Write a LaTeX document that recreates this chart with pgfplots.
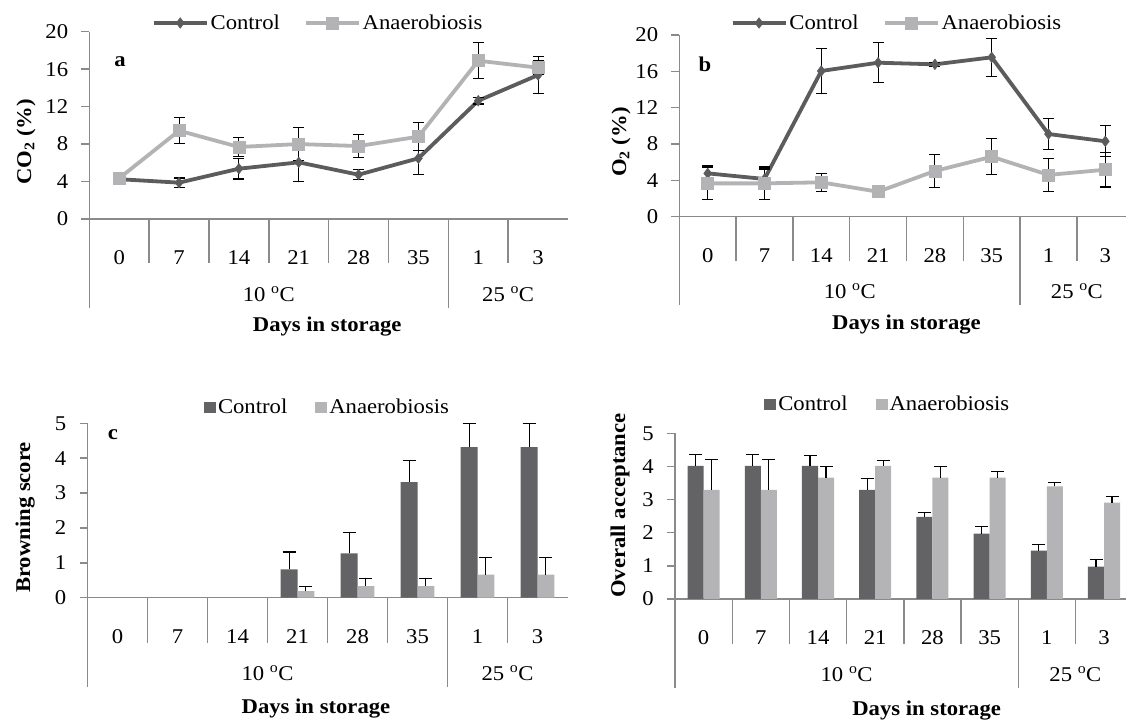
\documentclass[border=0pt]{standalone}
\usepackage{fontspec}
\setmainfont{Liberation Serif}[FakeStretch=1.08]
\usepackage{pgfplots}
\usepackage{pgfplotstable}
\pgfplotsset{compat=1.18}
\definecolor{ctrl}{HTML}{5C5C5E}
\definecolor{anae}{HTML}{B3B3B5}
\definecolor{ctrlbar}{HTML}{636366}
\definecolor{anaebar}{HTML}{B4B4B7}
\definecolor{axgray}{HTML}{8A8A8A}
\newcommand\fs{\fontsize{21}{25}\selectfont}

% panel a: CO2
\pgfplotstableread{
x c ce a ae
0.5 4.25 0.3 4.35 0.3
1.5 3.88 0.5 9.43 1.4
2.5 5.37 1.1 7.69 1.05
3.5 6.05 2.0 8.0 1.8
4.5 4.73 0.55 7.79 1.25
5.5 6.48 1.75 8.79 1.5
6.5 12.63 0.35 16.9 1.9
7.5 15.37 2.0 16.16 0.75
}\tabA
% panel b: O2
\pgfplotstableread{
x c ce a ae
0.5 4.77 0.9 3.67 1.8
1.5 4.15 1.1 3.67 1.8
2.5 16.04 2.5 3.78 1.0
3.5 16.95 2.2 2.75 0.3
4.5 16.77 0.2 5.03 1.8
5.5 17.54 2.1 6.6 2.0
6.5 9.1 1.7 4.6 1.8
7.5 8.3 1.7 5.17 1.9
}\tabB
% panel c: browning score (0 at days 0, 7, 14)
\pgfplotstableread{
x c ce a ae
3.5 0.81 0.5 0.19 0.14
4.5 1.27 0.6 0.33 0.21
5.5 3.31 0.63 0.33 0.21
6.5 4.32 0.68 0.66 0.5
7.5 4.32 0.68 0.66 0.5
}\tabC
% panel d: overall acceptance
\pgfplotstableread{
x c ce a ae
0.5 4.02 0.34 3.29 0.93
1.5 4.02 0.34 3.29 0.93
2.5 4.02 0.30 3.66 0.35
3.5 3.29 0.35 4.02 0.17
4.5 2.48 0.14 3.66 0.34
5.5 1.97 0.21 3.66 0.18
6.5 1.46 0.18 3.40 0.12
7.5 0.98 0.20 2.91 0.19
}\tabD

\pgfplotsset{
  catax/.style={
    scale only axis, anchor=south west, clip=false,
    xmin=0, xmax=8, ymin=0,
    axis x line*=bottom, axis y line*=left,
    axis line style={draw=axgray, line width=1.4pt, -},
    xtick={0.5,1.5,2.5,3.5,4.5,5.5,6.5,7.5},
    xticklabels={0,7,14,21,28,35,1,3},
    tick align=outside,
    major tick length=8pt,
    x tick style={draw=none},
    y tick style={draw=axgray, line width=1.4pt},
    xticklabel style={font=\fs, anchor=base, inner sep=0pt, yshift=-37.5pt},
    yticklabel style={font=\fs, anchor=east, inner sep=0pt, xshift=-13pt},
    /pgf/number format/assume math mode=true,
    label style={font=\fs\bfseries},
    ylabel style={anchor=center, rotate=0},
    xlabel style={anchor=base},
    legend style={draw=none, fill=none, font=\fs, anchor=center, legend columns=2,
      /tikz/every even column/.append style={column sep=22pt}},
  },
  lineleg/.style={legend image code/.code={
      \draw[mark repeat=2,mark phase=2,##1] plot coordinates {(0pt,0pt) (26.5pt,0pt) (53pt,0pt)};}},
  barleg/.style={legend image code/.code={
      \fill[##1] (0pt,-5.5pt) rectangle (12pt,5.5pt);}},
  errstyle/.style={
      /pgfplots/error bars/error bar style={black, line width=1.1pt, solid},
      /pgfplots/error bars/error mark options={black, rotate=90, mark size=#1, line width=1.1pt, solid}},
  ctrlline/.style={color=ctrl, line width=3.8pt, mark=diamond*, mark size=5.3pt,
      mark options={fill=ctrl, draw=ctrl, line width=0.5pt, solid},
      errstyle=5.5pt, /pgfplots/error bars/y dir=both, /pgfplots/error bars/y explicit},
  anaeline/.style={color=anae, line width=3.8pt, mark=square*, mark size=6pt,
      mark options={fill=anae, draw=anae, line width=0.5pt, solid},
      errstyle=5.5pt, /pgfplots/error bars/y dir=both, /pgfplots/error bars/y explicit},
  ctrlbars/.style={ybar, bar width=0.28, bar shift=0, fill=ctrlbar, draw=none,
      errstyle=6.5pt, /pgfplots/error bars/y dir=plus, /pgfplots/error bars/y explicit},
  anaebars/.style={ybar, bar width=0.28, bar shift=0, fill=anaebar, draw=none,
      errstyle=6.5pt, /pgfplots/error bars/y dir=plus, /pgfplots/error bars/y explicit},
}

\newcommand\seps[2]{%
  \pgfplotsinvokeforeach{1,2,3,4,5,7}{\draw[axgray, line width=1.4pt] (axis cs:##1,0) -- ++(0pt,-#1);}%
  \pgfplotsinvokeforeach{0,6}{\draw[axgray, line width=1.4pt] (axis cs:##1,0) -- ++(0pt,-#2);}%
}

\begin{document}
\begin{tikzpicture}
\useasboundingbox (0,0) rectangle (1126pt,722pt);

% ---------------- a
\begin{axis}[catax, lineleg, at={(89.3pt,503pt)}, width=478.7pt, height=187.3pt,
  ymax=20, ytick={0,4,8,12,16,20},
  ylabel={CO\textsubscript{2} (\%)}, ylabel style={at={(axis description cs:-0.132,0.411)}},
  xlabel={Days in storage}, xlabel style={at={(axis description cs:0.497,0)}, yshift=-113pt},
  legend style={at={(axis description cs:0.478,1.0465)}}]
\addplot[ctrlline] table[x=x, y=c, y error=ce] {\tabA};
\addlegendentry{Control}
\addplot[anaeline] table[x=x, y=a, y error=ae] {\tabA};
\addlegendentry{Anaerobiosis}
\seps{44pt}{89pt}
\node[font=\fs, anchor=base, yshift=-82.5pt] at (axis cs:3,0) {10 \textsuperscript{o}C};
\node[font=\fs, anchor=base, yshift=-82.5pt] at (axis cs:7,0) {25 \textsuperscript{o}C};
\node[font=\fs\bfseries, anchor=base] at (axis cs:0.513,16.26) {a};
\end{axis}

% ---------------- b
\begin{axis}[catax, lineleg, at={(679.3pt,505.3pt)}, width=454.4pt, height=181.7pt,
  ymax=20, ytick={0,4,8,12,16,20},
  ylabel={O\textsubscript{2} (\%)}, ylabel style={at={(axis description cs:-0.128,0.411)}},
  xlabel={Days in storage}, xlabel style={at={(axis description cs:0.5,0)}, yshift=-113pt},
  legend style={at={(axis description cs:0.479,1.066)}}]
\addplot[ctrlline] table[x=x, y=c, y error=ce] {\tabB};
\addlegendentry{Control}
\addplot[anaeline] table[x=x, y=a, y error=ae] {\tabB};
\addlegendentry{Anaerobiosis}
\seps{44pt}{88pt}
\node[font=\fs, anchor=base, yshift=-81.5pt] at (axis cs:3,0) {10 \textsuperscript{o}C};
\node[font=\fs, anchor=base, yshift=-81.5pt] at (axis cs:7,0) {25 \textsuperscript{o}C};
\node[font=\fs\bfseries, anchor=base] at (axis cs:0.449,15.96) {b};
\end{axis}

% ---------------- c
\begin{axis}[catax, barleg, at={(87.5pt,124.3pt)}, width=480pt, height=174.4pt,
  ymax=5, ytick={0,1,2,3,4,5},
  ylabel={Browning score}, ylabel style={at={(axis description cs:-0.130,0.46)}},
  xlabel={Days in storage}, xlabel style={at={(axis description cs:0.476,0)}, yshift=-116pt},
  legend style={at={(axis description cs:0.5,1.093)},
    /tikz/every even column/.append style={column sep=26pt}}]
\addplot[ctrlbars] table[x expr=\thisrow{x}-0.14, y=c, y error=ce] {\tabC};
\addlegendentry{Control}
\addplot[anaebars] table[x expr=\thisrow{x}+0.14, y=a, y error=ae] {\tabC};
\addlegendentry{Anaerobiosis}
\seps{45pt}{89pt}
\node[font=\fs, anchor=base, yshift=-82.5pt] at (axis cs:3,0) {10 \textsuperscript{o}C};
\node[font=\fs, anchor=base, yshift=-82.5pt] at (axis cs:7,0) {25 \textsuperscript{o}C};
\node[font=\fs\bfseries, anchor=base] at (axis cs:0.425,4.54) {c};
\end{axis}

% ---------------- d
\begin{axis}[catax, barleg, at={(675pt,123pt)}, width=457.6pt, height=165.7pt,
  ymax=5, ytick={0,1,2,3,4,5},
  ylabel={Overall acceptance}, ylabel style={at={(axis description cs:-0.120,0.564)}},
  xlabel={Days in storage}, xlabel style={at={(axis description cs:0.55,0)}, yshift=-116pt},
  legend style={at={(axis description cs:0.465,1.175)},
    /tikz/every even column/.append style={column sep=26pt}}]
\addplot[ctrlbars] table[x expr=\thisrow{x}-0.14, y=c, y error=ce] {\tabD};
\addlegendentry{Control}
\addplot[anaebars] table[x expr=\thisrow{x}+0.14, y=a, y error=ae] {\tabD};
\addlegendentry{Anaerobiosis}
\seps{45pt}{89pt}
\node[font=\fs, anchor=base, yshift=-82pt] at (axis cs:3,0) {10 \textsuperscript{o}C};
\node[font=\fs, anchor=base, yshift=-82pt] at (axis cs:7,0) {25 \textsuperscript{o}C};
\end{axis}
\end{tikzpicture}
\end{document}
